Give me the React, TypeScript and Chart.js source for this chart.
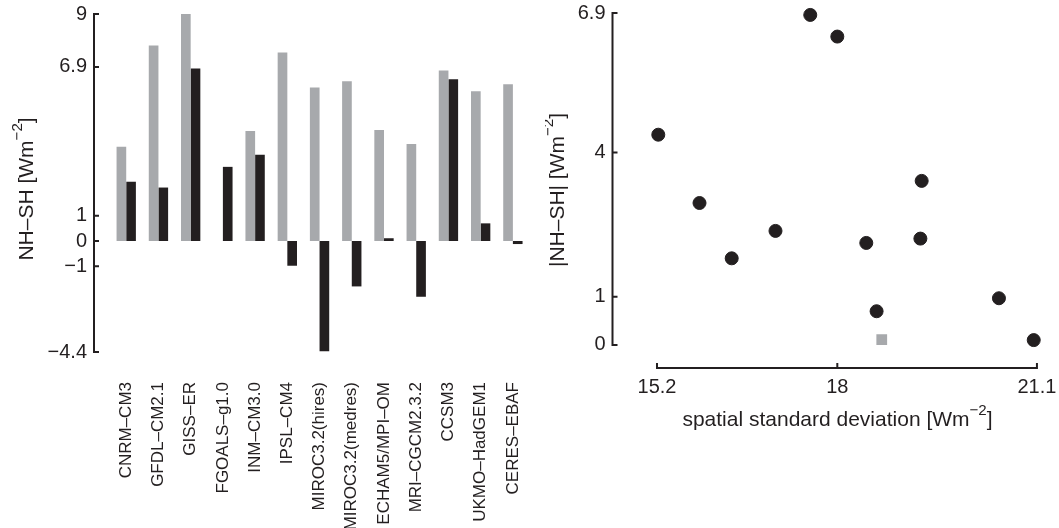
import React, { useEffect, useRef } from 'react';
import { Chart, registerables } from 'chart.js';

Chart.register(...registerables);

// ---------------- data ----------------
const categories = [
  'CNRM–CM3',
  'GFDL–CM2.1',
  'GISS–ER',
  'FGOALS–g1.0',
  'INM–CM3.0',
  'IPSL–CM4',
  'MIROC3.2(hires)',
  'MIROC3.2(medres)',
  'ECHAM5/MPI–OM',
  'MRI–CGCM2.3.2',
  'CCSM3',
  'UKMO–HadGEM1',
  'CERES–EBAF',
];
const grayValues = [3.74, 7.75, 9.0, 0, 4.36, 7.47, 6.09, 6.33, 4.4, 3.85, 6.76, 5.94, 6.21];
const blackValues = [2.35, 2.12, 6.84, 2.94, 3.42, -0.98, -4.37, -1.8, 0.11, -2.21, 6.41, 0.7, -0.12];
const barYTicks = [9, 6.9, 1, 0, -1, -4.4];

// scatter: models (CNRM ... UKMO) and observation (CERES)
const modelStd = [17.04, 18.45, 17.58, 15.86, 19.31, 20.51, 15.22, 16.36, 21.05, 19.29, 18.0, 18.61];
const modelAbs = [2.37, 2.12, 6.86, 2.95, 3.41, 0.97, 4.37, 1.8, 0.1, 2.21, 6.41, 0.7];
const obsStd = [18.69];
const obsAbs = [0.11];
const scatterXTicks = [15.2, 18, 21.1];
const scatterYTicks = [0, 1, 4, 6.9];

// ---------------- style ----------------
const FONT = '"Liberation Sans", Arial, Helvetica, sans-serif';
const INK = '#231f20';
const GRAY = '#a7a9ac';
const TICK_SIZE = 20;
const TITLE_SIZE = 21;
const CAT_SIZE = 17;

const fmt = (v: number) => (v < 0 ? '−' + String(Math.abs(v)) : String(v));

type Part = { t: string; sup?: boolean };
function drawRich(ctx: CanvasRenderingContext2D, parts: Part[], x: number, y: number, rot: number, size: number) {
  const supSize = size * 0.72;
  const f = (s: number) => `${s}px ${FONT}`;
  let total = 0;
  const widths = parts.map((p) => {
    ctx.font = f(p.sup ? supSize : size);
    const w = ctx.measureText(p.t).width;
    total += w;
    return w;
  });
  ctx.save();
  ctx.translate(x, y);
  ctx.rotate(rot);
  ctx.fillStyle = INK;
  ctx.textBaseline = 'alphabetic';
  ctx.textAlign = 'left';
  let cx = -total / 2;
  parts.forEach((p, i) => {
    ctx.font = f(p.sup ? supSize : size);
    ctx.fillText(p.t, cx, p.sup ? -size * 0.52 : 0);
    cx += widths[i];
  });
  ctx.restore();
}

const zeroPad = (s: any) => {
  s.paddingLeft = 0;
  s.paddingRight = 0;
  s.paddingTop = 0;
  s.paddingBottom = 0;
};

const leftAxesPlugin = {
  id: 'leftAxes',
  afterDraw(chart: any) {
    const { ctx, chartArea } = chart;
    const y = chart.scales.y;
    ctx.save();
    ctx.strokeStyle = INK;
    ctx.lineWidth = 2;
    ctx.lineCap = 'square';
    const x0 = chartArea.left;
    ctx.beginPath();
    ctx.moveTo(x0, y.getPixelForValue(y.max));
    ctx.lineTo(x0, y.getPixelForValue(y.min));
    barYTicks.forEach((t) => {
      const py = y.getPixelForValue(t);
      ctx.moveTo(x0, py);
      ctx.lineTo(x0 + 4, py);
    });
    ctx.stroke();
    ctx.restore();
    drawRich(
      ctx,
      [{ t: 'NH–SH [Wm' }, { t: '−2', sup: true }, { t: ']' }],
      33,
      189,
      -Math.PI / 2,
      TITLE_SIZE
    );
  },
};

const rightAxesPlugin = {
  id: 'rightAxes',
  afterDraw(chart: any) {
    const { ctx, chartArea } = chart;
    const x = chart.scales.x;
    const y = chart.scales.y;
    ctx.save();
    ctx.strokeStyle = INK;
    ctx.lineWidth = 2;
    ctx.lineCap = 'square';
    const x0 = chartArea.left;
    const y0 = chartArea.bottom;
    ctx.beginPath();
    ctx.moveTo(x0, y.getPixelForValue(scatterYTicks[0]));
    ctx.lineTo(x0, y.getPixelForValue(scatterYTicks[scatterYTicks.length - 1]));
    scatterYTicks.forEach((t) => {
      const py = y.getPixelForValue(t);
      ctx.moveTo(x0, py);
      ctx.lineTo(x0 + 4, py);
    });
    ctx.moveTo(x.getPixelForValue(scatterXTicks[0]), y0);
    ctx.lineTo(x.getPixelForValue(scatterXTicks[scatterXTicks.length - 1]), y0);
    scatterXTicks.forEach((t) => {
      const px = x.getPixelForValue(t);
      ctx.moveTo(px, y0);
      ctx.lineTo(px, y0 - 4);
    });
    ctx.stroke();
    ctx.restore();
    drawRich(
      ctx,
      [{ t: '|NH–SH| [Wm' }, { t: '−2', sup: true }, { t: ']' }],
      19,
      190,
      -Math.PI / 2,
      TITLE_SIZE
    );
    drawRich(
      ctx,
      [{ t: 'spatial standard deviation [Wm' }, { t: '−2', sup: true }, { t: ']' }],
      chartArea.left + 225,
      426,
      0,
      TITLE_SIZE
    );
  },
};

export default function App() {
  const leftRef = useRef<HTMLCanvasElement>(null);
  const rightRef = useRef<HTMLCanvasElement>(null);

  useEffect(() => {
    if (!leftRef.current || !rightRef.current) return;

    const left = new Chart(leftRef.current, {
      type: 'bar',
      data: {
        datasets: [
          {
            data: grayValues.map((v, i) => ({ x: i, y: v })),
            backgroundColor: GRAY,
            borderWidth: 0,
            categoryPercentage: 0.6,
            barPercentage: 1.0,
          },
          {
            data: blackValues.map((v, i) => ({ x: i, y: v })),
            backgroundColor: INK,
            borderWidth: 0,
            categoryPercentage: 0.6,
            barPercentage: 1.0,
          },
        ],
      },
      options: {
        responsive: false,
        animation: false,
        devicePixelRatio: 1,
        layout: { padding: { left: 0, top: 14, right: 16, bottom: 0 } },
        plugins: { legend: { display: false }, tooltip: { enabled: false } },
        scales: {
          x: {
            type: 'linear',
            offset: false,
            min: -1,
            max: 12.5,
            grid: { display: false, drawTicks: false },
            border: { display: false },
            afterBuildTicks: (s: any) => {
              s.ticks = categories.map((_, i) => ({ value: i }));
            },
            afterFit: (s: any) => {
              s.height = 176;
              zeroPad(s);
            },
            ticks: {
              autoSkip: false,
              minRotation: 90,
              maxRotation: 90,
              padding: 30,
              color: INK,
              font: { family: FONT, size: CAT_SIZE },
              callback: (v: any) => categories[v] ?? '',
            },
          },
          y: {
            type: 'linear',
            min: -4.4,
            max: 9,
            grid: { display: false, drawTicks: false },
            border: { display: false },
            afterBuildTicks: (s: any) => {
              s.ticks = barYTicks.map((v) => ({ value: v }));
            },
            afterFit: (s: any) => {
              s.width = 94;
              zeroPad(s);
            },
            ticks: {
              padding: 7,
              color: INK,
              font: { family: FONT, size: TICK_SIZE },
              callback: (v: any) => fmt(v),
            },
          },
        },
      },
      plugins: [leftAxesPlugin],
    } as any);

    const right = new Chart(rightRef.current, {
      type: 'scatter',
      data: {
        datasets: [
          {
            data: modelStd.map((v, i) => ({ x: v, y: modelAbs[i] })),
            backgroundColor: INK,
            borderColor: INK,
            borderWidth: 1,
            pointRadius: 6.5,
            pointStyle: 'circle',
            clip: false,
          },
          {
            data: obsStd.map((v, i) => ({ x: v, y: obsAbs[i] })),
            backgroundColor: GRAY,
            borderColor: GRAY,
            borderWidth: 0,
            pointRadius: 7.6,
            pointStyle: 'rect',
            clip: false,
          },
        ],
      },
      options: {
        responsive: false,
        animation: false,
        devicePixelRatio: 1,
        layout: { padding: { left: 0, top: 13, right: 12.4, bottom: 0 } },
        plugins: { legend: { display: false }, tooltip: { enabled: false } },
        scales: {
          x: {
            type: 'linear',
            min: 14.509,
            max: 21.25,
            grid: { display: false, drawTicks: false },
            border: { display: false },
            afterBuildTicks: (s: any) => {
              s.ticks = scatterXTicks.map((v) => ({ value: v }));
            },
            afterFit: (s: any) => {
              s.height = 160;
              zeroPad(s);
            },
            ticks: {
              padding: 7,
              maxRotation: 0,
              color: INK,
              font: { family: FONT, size: TICK_SIZE },
              callback: (v: any) => fmt(v),
            },
          },
          y: {
            type: 'linear',
            min: -0.48,
            max: 6.9,
            grid: { display: false, drawTicks: false },
            border: { display: false },
            afterBuildTicks: (s: any) => {
              s.ticks = scatterYTicks.map((v) => ({ value: v }));
            },
            afterFit: (s: any) => {
              s.width = 67.5;
              zeroPad(s);
            },
            ticks: {
              padding: 7,
              color: INK,
              font: { family: FONT, size: TICK_SIZE },
              callback: (v: any) => fmt(v),
            },
          },
        },
      },
      plugins: [rightAxesPlugin],
    } as any);

    return () => {
      left.destroy();
      right.destroy();
    };
  }, []);

  return (
    <div style={{ position: 'fixed', left: 0, top: 0, width: 1059, height: 528, background: '#fff' }}>
      <canvas
        ref={leftRef}
        width={545}
        height={528}
        style={{ position: 'absolute', left: 0, top: 0, width: 545, height: 528 }}
      />
      <canvas
        ref={rightRef}
        width={514}
        height={528}
        style={{ position: 'absolute', left: 545, top: 0, width: 514, height: 528 }}
      />
    </div>
  );
}
